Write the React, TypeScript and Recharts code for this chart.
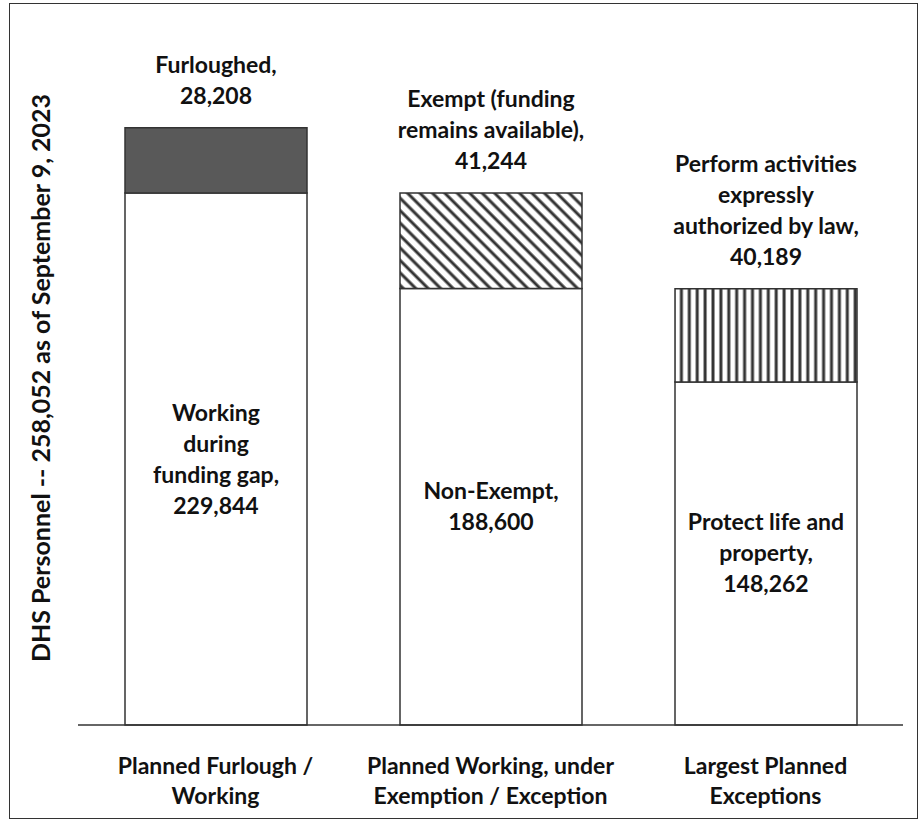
import React from "react";
import { BarChart, Bar, XAxis, YAxis, Cell, LabelList } from "recharts";

const categories = [
  ["Planned Furlough /", "Working"],
  ["Planned Working, under", "Exemption / Exception"],
  ["Largest Planned", "Exceptions"],
];
const baseValues = [229844, 188600, 148262];
const topValues = [28208, 41244, 40189];
const baseNames = [
  ["Working", "during", "funding gap,"],
  ["Non-Exempt,"],
  ["Protect life and", "property,"],
];
const topNames = [
  ["Furloughed,"],
  ["Exempt (funding", "remains available),"],
  ["Perform activities", "expressly", "authorized by law,"],
];
const yTitle = "DHS Personnel -- 258,052 as of September 9, 2023";

const data = categories.map((c, i) => ({
  name: c.join(" "),
  base: baseValues[i],
  top: topValues[i],
}));

const FONT = "Lato, 'Open Sans', sans-serif";
const SIZE = 23;
const LINE = 31;
const fmt = (v: number) => v.toLocaleString("en-US");

function BaseLabel(props: any) {
  const { x, y, width, height, index } = props;
  const lines = [...baseNames[index], fmt(baseValues[index])];
  const cx = x + width / 2;
  const startY = y + height / 2 - ((lines.length - 1) * LINE) / 2;
  return (
    <text x={cx} textAnchor="middle" fontFamily={FONT} fontWeight={700} fontSize={SIZE} fill="#111">
      {lines.map((l, k) => (
        <tspan key={k} x={cx} y={startY + k * LINE} dy="0.35em">
          {l}
        </tspan>
      ))}
    </text>
  );
}

function TopLabel(props: any) {
  const { x, y, width, index } = props;
  const lines = [...topNames[index], fmt(topValues[index])];
  const cx = x + width / 2;
  const lastY = y - 32;
  return (
    <text x={cx} textAnchor="middle" fontFamily={FONT} fontWeight={700} fontSize={SIZE} fill="#111">
      {lines.map((l, k) => (
        <tspan key={k} x={cx} y={lastY - (lines.length - 1 - k) * LINE} dy="0.35em">
          {l}
        </tspan>
      ))}
    </text>
  );
}

function CategoryTick(props: any) {
  const { x, y, index } = props;
  const lines = categories[index] || [];
  return (
    <text x={x} textAnchor="middle" fontFamily={FONT} fontWeight={700} fontSize={SIZE} fill="#111">
      {lines.map((l, k) => (
        <tspan key={k} x={x} y={y + 33 + k * 30} dy="0.35em">
          {l}
        </tspan>
      ))}
    </text>
  );
}

function YTitle(props: any) {
  const { viewBox } = props;
  const cx = viewBox.x + 32;
  const cy = 378;
  return (
    <text
      x={cx}
      y={cy}
      transform={`rotate(-90, ${cx}, ${cy})`}
      textAnchor="middle"
      dominantBaseline="central"
      fontFamily={FONT}
      fontWeight={700}
      fontSize={25}
      fill="#111"
    >
      {yTitle}
    </text>
  );
}

const topFills = ["#595959", "url(#diagHatch)", "url(#vertHatch)"];

export default function App() {
  return (
    <div style={{ position: "absolute", left: 0, top: 0, width: 919, height: 821, background: "#fff" }}>
      <div
        style={{
          position: "absolute",
          left: 9,
          top: 3,
          width: 909,
          height: 816,
          border: "1.5px solid #333",
          boxSizing: "border-box",
        }}
      />
      <BarChart
        width={919}
        height={821}
        data={data}
        margin={{ top: 77, right: 16, bottom: 16, left: 8 }}
        barSize={182}
      >
        <defs>
          <pattern id="diagHatch" patternUnits="userSpaceOnUse" width={8.8} height={8.8} patternTransform="rotate(-45)">
            <rect width={8.8} height={8.8} fill="#fff" />
            <line x1={2} y1={0} x2={2} y2={8.8} stroke="#333" strokeWidth={3} />
          </pattern>
          <pattern id="vertHatch" patternUnits="userSpaceOnUse" width={7.9} height={10}>
            <rect width={7.9} height={10} fill="#fff" />
            <line x1={2} y1={0} x2={2} y2={10} stroke="#333" strokeWidth={3} />
          </pattern>
        </defs>
        <XAxis
          dataKey="name"
          height={80}
          axisLine={{ stroke: "#333", strokeWidth: 1.5 }}
          tickLine={false}
          tick={<CategoryTick />}
          interval={0}
        />
        <YAxis
          width={70}
          domain={[0, 280000]}
          axisLine={false}
          tickLine={false}
          tick={false}
          label={<YTitle />}
        />
        <Bar dataKey="base" stackId="a" fill="#fff" stroke="#333" strokeWidth={1.5} isAnimationActive={false}>
          {data.map((_, i) => (
            <Cell key={i} fill="#fff" />
          ))}
          <LabelList dataKey="base" content={<BaseLabel />} />
        </Bar>
        <Bar dataKey="top" stackId="a" stroke="#333" strokeWidth={1.5} isAnimationActive={false}>
          {data.map((_, i) => (
            <Cell key={i} fill={topFills[i]} />
          ))}
          <LabelList dataKey="top" content={<TopLabel />} />
        </Bar>
      </BarChart>
    </div>
  );
}
